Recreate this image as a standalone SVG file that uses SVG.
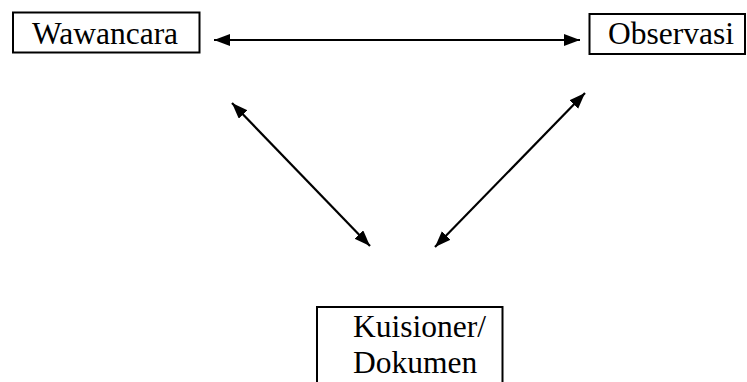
<svg xmlns="http://www.w3.org/2000/svg" width="747" height="382" viewBox="0 0 747 382">
<style>
.box{fill:#fff;stroke:#000;stroke-width:2}
.lbl{font-family:'Liberation Serif','Times New Roman',Times,serif;font-size:31.5px;fill:#000}
.conn{stroke:#000;stroke-width:2.2;fill:none;marker-start:url(#ah);marker-end:url(#ah)}
</style>
<defs>
<marker id="ah" markerUnits="userSpaceOnUse" markerWidth="17" markerHeight="13" refX="16" refY="6" orient="auto-start-reverse" viewBox="0 0 17 13">
<path d="M0,0 L16,6 L0,12 z" fill="#000"/>
</marker>
</defs>
<rect width="747" height="382" fill="#fff"/>
<g id="connectors">
<line class="conn" x1="214" y1="40" x2="580" y2="40"/>
<line class="conn" x1="232" y1="103" x2="370" y2="246"/>
<line class="conn" x1="585" y1="93" x2="435" y2="247"/>
</g>
<g id="wawancara">
<rect class="box" x="13" y="12.5" width="186.5" height="40"/>
<text class="lbl" x="32" y="44">Wawancara</text>
</g>
<g id="observasi">
<rect class="box" x="589.5" y="14" width="155.5" height="40"/>
<text class="lbl" x="608" y="44">Observasi</text>
</g>
<g id="kuisioner">
<path class="box" d="M317,383 L317,307 L502.5,307 L502.5,383"/>
<text class="lbl" x="353" y="337">Kuisioner/</text>
<text class="lbl" x="353" y="373">Dokumen</text>
</g>
</svg>
